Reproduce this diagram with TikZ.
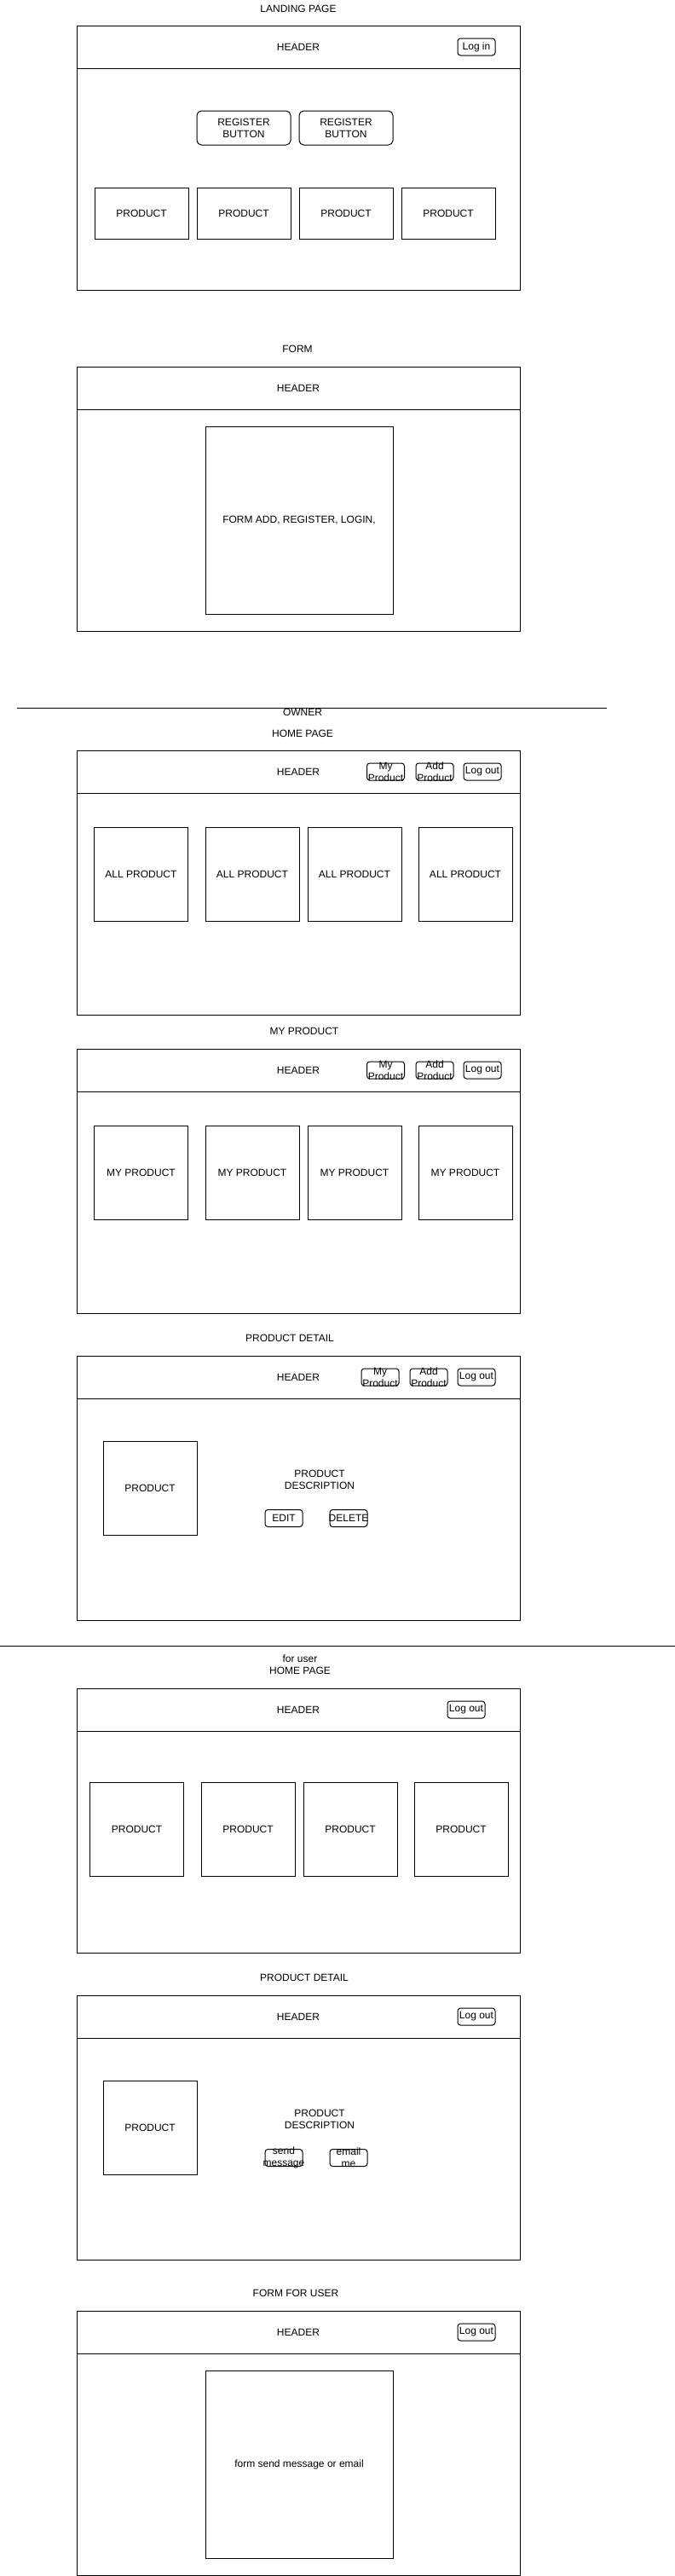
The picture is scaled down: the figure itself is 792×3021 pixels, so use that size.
\documentclass[tikz,border=0pt]{standalone}
\usepackage{fontspec}
\setmainfont{Liberation Sans}
\tikzset{
  every node/.style={font=\fontsize{9}{10.5}\selectfont, inner sep=0pt, outer sep=0pt},
  sz/.style 2 args={minimum width=#1*0.75pt, minimum height=#2*0.75pt},
  pageframe/.style={draw, line width=0.75pt, sz={520}{310}},
  hdr/.style={draw, line width=0.75pt, sz={520}{50}},
  btn/.style={draw, line width=0.75pt, rounded corners=2.5pt, sz={44}{20}},
  bigbtn/.style={draw, line width=0.75pt, rounded corners=4pt, sz={110}{40}, align=center},
  prod/.style={draw, line width=0.75pt, sz={110}{60}},
  tallprod/.style={draw, line width=0.75pt, sz={110}{110}},
  formbox/.style={draw, line width=0.75pt, sz={220}{220}},
  sep/.style={line width=0.75pt}
}
\begin{document}
\begin{tikzpicture}[x=0.75pt,y=-0.75pt]
\useasboundingbox (0,0) rectangle (792,3021);

% landing page
\node (tLand) at (350,10) {LANDING PAGE};
\node[pageframe] (fLand) at (350,185) {};
\node[hdr] (hLand) at (350,55) {HEADER};
\node[btn,label={center:Log in}] (bLogin) at (559,55) {};
\node[bigbtn] (reg1) at (286,150) {REGISTER\\BUTTON};
\node[bigbtn] (reg2) at (406,150) {REGISTER\\BUTTON};
\node[prod] (p1) at (166,250) {PRODUCT};
\node[prod] (p2) at (286,250) {PRODUCT};
\node[prod] (p3) at (406,250) {PRODUCT};
\node[prod] (p4) at (526,250) {PRODUCT};

% form
\node (tForm) at (349,409) {FORM};
\node[pageframe] (fForm) at (350,585) {};
\node[hdr] (hForm) at (350,455) {HEADER};
\node[formbox] (form1) at (351,610) {FORM ADD, REGISTER, LOGIN,};

% owner
\coordinate (ownerL) at (20,830);
\coordinate (ownerR) at (712,830);
\node (tOwner) at (355,835) {OWNER};
\draw[sep] (ownerL) -- (ownerR);
\node (tHome) at (355,860) {HOME PAGE};
\node[pageframe] (fHome) at (350,1035) {};
\node[hdr] (hHome) at (350,905) {HEADER};
\node[btn,label={[align=center]center:{My\\Product}}] (bMy1) at (452.5,905) {};
\node[btn,label={[align=center]center:{Add\\Product}}] (bAdd1) at (510,905) {};
\node[btn,label={center:Log out}] (bOut1) at (566,905) {};
\node[tallprod] (ap1) at (165.5,1025) {ALL PRODUCT};
\node[tallprod] (ap2) at (296,1025) {ALL PRODUCT};
\node[tallprod] (ap3) at (416,1025) {ALL PRODUCT};
\node[tallprod] (ap4) at (546,1025) {ALL PRODUCT};

% my product
\node (tMy) at (357,1209) {MY PRODUCT};
\node[pageframe] (fMy) at (350,1385) {};
\node[hdr] (hMy) at (350,1255) {HEADER};
\node[btn,label={[align=center]center:{My\\Product}}] (bMy2) at (452.5,1255) {};
\node[btn,label={[align=center]center:{Add\\Product}}] (bAdd2) at (510,1255) {};
\node[btn,label={center:Log out}] (bOut2) at (566,1255) {};
\node[tallprod] (mp1) at (165.5,1375) {MY PRODUCT};
\node[tallprod] (mp2) at (296,1375) {MY PRODUCT};
\node[tallprod] (mp3) at (416,1375) {MY PRODUCT};
\node[tallprod] (mp4) at (546,1375) {MY PRODUCT};

% product detail (owner)
\node (tDetail) at (340,1569) {PRODUCT DETAIL};
\node[pageframe] (fDetail) at (350,1745) {};
\node[hdr] (hDetail) at (350,1615) {HEADER};
\node[btn,label={[align=center]center:{My\\Product}}] (bMy3) at (446,1615) {};
\node[btn,label={[align=center]center:{Add\\Product}}] (bAdd3) at (503,1615) {};
\node[btn,label={center:Log out}] (bOut3) at (559,1615) {};
\node[tallprod] (dp1) at (176,1745) {PRODUCT};
\node[align=center] (desc1) at (375,1735) {PRODUCT\\DESCRIPTION};
\node[btn,label={center:EDIT}] (bEdit) at (333,1780.5) {};
\node[btn,label={center:DELETE}] (bDelete) at (409,1780.5) {};

% for user
\coordinate (userL) at (0,1930);
\coordinate (userR) at (792,1930);
\draw[sep] (userL) -- (userR);
\node[align=center] (tUser) at (352,1952) {for user\\HOME PAGE};
\node[pageframe] (fUser) at (350,2135) {};
\node[hdr] (hUser) at (350,2005) {HEADER};
\node[btn,label={center:Log out}] (bOut4) at (547,2005) {};
\node[tallprod] (up1) at (160.5,2145) {PRODUCT};
\node[tallprod] (up2) at (291,2145) {PRODUCT};
\node[tallprod] (up3) at (411,2145) {PRODUCT};
\node[tallprod] (up4) at (541,2145) {PRODUCT};

% product detail (user)
\node (tDetailU) at (357,2319) {PRODUCT DETAIL};
\node[pageframe] (fDetailU) at (350,2495) {};
\node[hdr] (hDetailU) at (350,2365) {HEADER};
\node[btn,label={center:Log out}] (bOut5) at (559,2365) {};
\node[tallprod] (dp2) at (176,2495) {PRODUCT};
\node[align=center] (desc2) at (375,2485) {PRODUCT\\DESCRIPTION};
\node[btn,label={[align=center]center:{send\\message}}] (bSend) at (333,2530.5) {};
\node[btn,label={[align=center]center:{email\\me}}] (bEmail) at (409,2530.5) {};

% form for user
\node (tFormU) at (347,2689) {FORM FOR USER};
\node[pageframe] (fFormU) at (350,2865) {};
\node[hdr] (hFormU) at (350,2735) {HEADER};
\node[btn,label={center:Log out}] (bOut6) at (559,2735) {};
\node[formbox] (form2) at (351,2890) {form send message or email};
\end{tikzpicture}
\end{document}
